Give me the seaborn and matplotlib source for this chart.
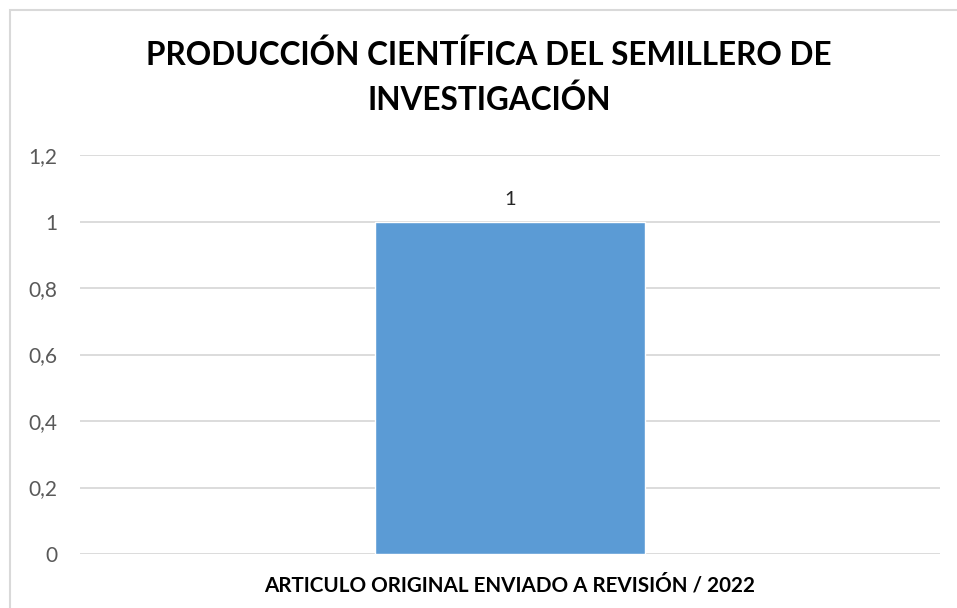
import matplotlib
matplotlib.use("Agg")
import matplotlib.pyplot as plt
import seaborn as sns
import pandas as pd
from matplotlib.patches import Rectangle
from matplotlib.ticker import FixedLocator, FuncFormatter

categories = ["ARTICULO ORIGINAL ENVIADO A REVISIÓN / 2022"]
values = [1]
yticks = [0, 0.2, 0.4, 0.6, 0.8, 1.0, 1.2]

sns.set_theme(style="white")
plt.rcParams['font.family'] = ['Lato', 'DejaVu Sans']

W, H = 957, 608
fig = plt.figure(figsize=(W/100, H/100), dpi=100)
ax = fig.add_axes([80/W, 1-554/H, (940-80)/W, (554-155)/H])

df = pd.DataFrame({"cat": categories, "val": values})
sns.barplot(data=df, x="cat", y="val", color="#5B9BD5", saturation=1,
            width=270/860, ax=ax, zorder=3)
ax.set_xlim(-0.5, 0.5)
ax.set_ylim(0, 1.2)
ax.yaxis.set_major_locator(FixedLocator(yticks))
ax.yaxis.set_major_formatter(FuncFormatter(lambda v, p: ("%g" % round(v, 1)).replace(".", ",")))
ax.grid(axis="y", color="#D9D9D9", linewidth=1.3, zorder=0)
ax.grid(axis="x", visible=False)
for s in ax.spines.values():
    s.set_visible(False)
ax.tick_params(axis="y", length=0, pad=16.5, labelsize=15, labelcolor="#595959")
ax.tick_params(axis="x", length=0, pad=15)
ax.set_xlabel("")
ax.set_ylabel("")
for lab in ax.get_xticklabels():
    lab.set_fontweight("bold")
    lab.set_fontsize(14.9)
    lab.set_color("#000000")

for i, v in enumerate(values):
    ax.annotate(("%g" % v).replace(".", ","), (i, v), xytext=(0, 10), textcoords="offset points",
                ha="center", va="bottom", fontsize=14.5, color="#262626")

fig.text(489/W, 1-55/H, "PRODUCCIÓN CIENTÍFICA DEL SEMILLERO DE", ha="center", va="center",
         fontsize=22.7, fontweight="bold", color="#000000")
fig.text(489/W, 1-100/H, "INVESTIGACIÓN", ha="center", va="center",
         fontsize=22.7, fontweight="bold", color="#000000")

fig.patches.append(Rectangle((10/W, -0.1), 1.1, 1-10/H+0.1, transform=fig.transFigure,
                             fill=False, edgecolor="#D9D9D9", linewidth=1.5))

fig.savefig("out.png", dpi=100)
